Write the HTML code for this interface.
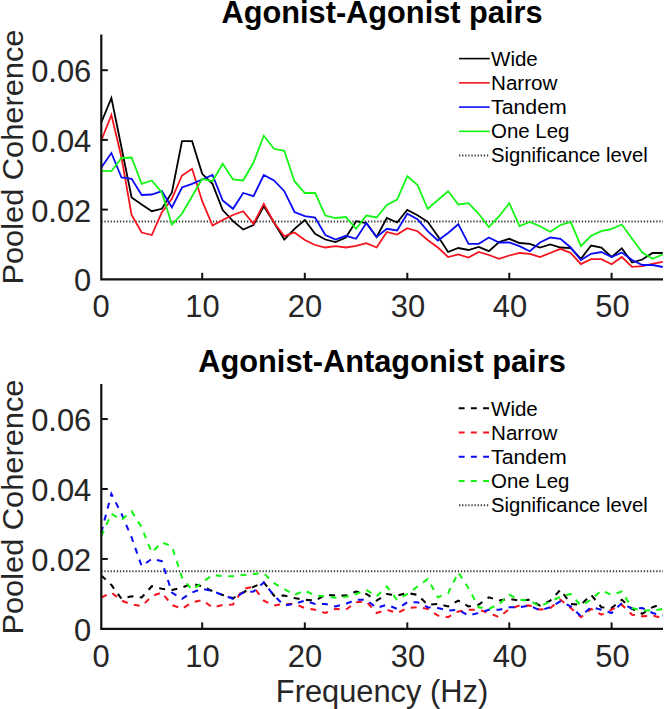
<!DOCTYPE html>
<html><head><meta charset="utf-8"><title>Pooled Coherence</title>
<style>
html,body{margin:0;padding:0;background:#fff;}
svg{display:block;}
text{font-family:"Liberation Sans",Arial,Helvetica,sans-serif;}
.ttl{font-size:30.8px;font-weight:bold;fill:#000;}
.tk{font-size:30.9px;fill:#262626;}
.lab{font-size:31px;fill:#262626;}
.lg{font-size:20.5px;fill:#000;}
</style></head><body>
<svg width="664" height="709" viewBox="0 0 664 709">
<rect width="664" height="709" fill="#fff"/>
<text x="382" y="22.5" class="ttl" text-anchor="middle" textLength="321" lengthAdjust="spacingAndGlyphs">Agonist-Agonist pairs</text>
<line x1="101.3" y1="221.60000000000002" x2="663" y2="221.60000000000002" stroke="#3a3a3a" stroke-width="2.0" stroke-dasharray="1.3 1.8"/>
<polyline points="101.3,122.5 111.4,98.0 121.5,147.5 131.6,197.5 141.7,204.5 151.8,211.2 161.8,208.8 171.9,192.5 182.0,141.2 192.1,141.2 202.2,173.8 212.5,183.8 222.7,210.0 233.0,221.2 243.2,229.5 253.5,225.0 263.8,206.2 274.0,222.5 284.3,239.5 294.5,228.8 304.8,220.0 315.1,233.8 325.3,239.5 335.6,242.0 345.8,237.5 356.1,221.2 366.3,223.0 376.6,237.0 386.8,218.0 397.1,222.5 407.3,210.0 417.5,215.2 427.7,221.8 437.9,236.2 448.1,252.0 458.3,248.0 468.5,250.0 478.7,247.0 488.9,251.2 499.1,242.0 509.3,238.8 519.5,243.0 529.8,243.8 540.0,247.5 550.2,244.5 560.5,247.5 570.7,248.2 580.9,258.8 591.1,245.5 601.4,247.5 611.6,257.0 621.8,248.2 632.1,262.5 642.3,259.5 652.5,253.0 662.8,253.0" fill="none" stroke="#000000" stroke-width="1.8" stroke-linejoin="miter"/>
<polyline points="101.3,140.5 111.4,115.0 121.5,157.5 131.6,215.0 141.7,232.5 151.8,235.0 161.8,212.5 171.9,198.8 182.0,175.5 192.1,168.8 202.2,201.2 212.5,225.5 222.7,220.0 233.0,215.0 243.2,211.2 253.5,223.8 263.8,203.8 274.0,222.5 284.3,236.2 294.5,232.5 304.8,240.0 315.1,245.0 325.3,247.5 335.6,246.2 345.8,247.5 356.1,245.8 366.3,243.2 376.6,247.5 386.8,232.0 397.1,234.5 407.3,228.2 417.5,231.2 427.7,240.0 437.9,247.5 448.1,257.0 458.3,254.5 468.5,257.5 478.7,252.0 488.9,255.0 499.1,258.8 509.3,255.5 519.5,253.0 529.8,253.8 540.0,257.0 550.2,253.0 560.5,248.8 570.7,253.0 580.9,264.1 591.1,259.2 601.4,259.2 611.6,264.2 621.8,257.0 632.1,266.8 642.3,266.2 652.5,263.8 662.8,261.8" fill="none" stroke="#f5141e" stroke-width="1.8" stroke-linejoin="miter"/>
<polyline points="101.3,167.5 111.4,153.0 121.5,177.5 131.6,178.8 141.7,195.0 151.8,194.5 161.8,191.2 171.9,207.5 182.0,187.5 192.1,183.8 202.2,179.5 212.5,175.0 222.7,200.5 233.0,208.8 243.2,193.0 253.5,196.2 263.8,175.0 274.0,180.5 284.3,191.2 294.5,212.0 304.8,216.2 315.1,217.5 325.3,235.0 335.6,239.5 345.8,235.8 356.1,238.8 366.3,223.0 376.6,237.0 386.8,228.8 397.1,230.5 407.3,213.8 417.5,219.1 427.7,231.2 437.9,240.5 448.1,233.0 458.3,224.2 468.5,243.8 478.7,243.8 488.9,237.5 499.1,242.5 509.3,242.5 519.5,246.2 529.8,251.2 540.0,242.5 550.2,237.5 560.5,238.8 570.7,247.5 580.9,260.0 591.1,253.8 601.4,252.0 611.6,257.0 621.8,252.5 632.1,260.0 642.3,265.0 652.5,265.0 662.8,267.0" fill="none" stroke="#0a0af5" stroke-width="1.8" stroke-linejoin="miter"/>
<polyline points="101.3,170.8 111.4,171.2 121.5,158.0 131.6,157.5 141.7,183.8 151.8,180.5 161.8,192.5 171.9,224.5 182.0,213.8 192.1,196.2 202.2,178.8 212.5,181.2 222.7,163.8 233.0,179.5 243.2,180.5 253.5,162.5 263.8,135.8 274.0,148.8 284.3,150.8 294.5,181.2 304.8,193.0 315.1,193.0 325.3,215.5 335.6,218.0 345.8,217.0 356.1,228.8 366.3,215.5 376.6,217.5 386.8,205.0 397.1,199.5 407.3,176.2 417.5,185.0 427.7,208.8 437.9,200.0 448.1,191.2 458.3,204.5 468.5,203.2 478.7,213.8 488.9,227.0 499.1,216.2 509.3,203.2 519.5,226.2 529.8,221.9 540.0,226.2 550.2,231.8 560.5,225.0 570.7,221.9 580.9,246.2 591.1,235.8 601.4,231.2 611.6,228.8 621.8,224.5 632.1,238.8 642.3,252.5 652.5,258.8 662.8,254.5" fill="none" stroke="#14f514" stroke-width="1.8" stroke-linejoin="miter"/>
<path d="M101.3,34.5 V279.3 H663" fill="none" stroke="#111" stroke-width="2.2"/>
<text x="91.3" y="291.2" class="tk" text-anchor="end">0</text>
<line x1="101.3" y1="209.60000000000002" x2="107.8" y2="209.60000000000002" stroke="#111" stroke-width="2"/>
<text x="91.3" y="221.5" class="tk" text-anchor="end">0.02</text>
<line x1="101.3" y1="139.9" x2="107.8" y2="139.9" stroke="#111" stroke-width="2"/>
<text x="91.3" y="151.8" class="tk" text-anchor="end">0.04</text>
<line x1="101.3" y1="70.19999999999999" x2="107.8" y2="70.19999999999999" stroke="#111" stroke-width="2"/>
<text x="91.3" y="82.1" class="tk" text-anchor="end">0.06</text>
<text x="101.0" y="316.9" class="tk" text-anchor="middle">0</text>
<line x1="202.2" y1="279.3" x2="202.2" y2="272.8" stroke="#111" stroke-width="2"/>
<text x="202.5" y="316.9" class="tk" text-anchor="middle">10</text>
<line x1="304.8" y1="279.3" x2="304.8" y2="272.8" stroke="#111" stroke-width="2"/>
<text x="305.0" y="316.9" class="tk" text-anchor="middle">20</text>
<line x1="407.3" y1="279.3" x2="407.3" y2="272.8" stroke="#111" stroke-width="2"/>
<text x="407.90000000000003" y="316.9" class="tk" text-anchor="middle">30</text>
<line x1="509.3" y1="279.3" x2="509.3" y2="272.8" stroke="#111" stroke-width="2"/>
<text x="509.90000000000003" y="316.9" class="tk" text-anchor="middle">40</text>
<line x1="611.6" y1="279.3" x2="611.6" y2="272.8" stroke="#111" stroke-width="2"/>
<text x="612.4" y="316.9" class="tk" text-anchor="middle">50</text>
<text transform="translate(22.7,157.1) rotate(-90)" class="lab" style="font-size:29.9px" text-anchor="middle" textLength="255" lengthAdjust="spacingAndGlyphs">Pooled Coherence</text>
<line x1="459" y1="58.60" x2="489.7" y2="58.60" stroke="#000000" stroke-width="1.6"/>
<text x="491" y="66.40" class="lg" textLength="46.8" lengthAdjust="spacingAndGlyphs">Wide</text>
<line x1="459" y1="82.85" x2="489.7" y2="82.85" stroke="#f5141e" stroke-width="1.6"/>
<text x="491" y="90.40" class="lg" textLength="66.4" lengthAdjust="spacingAndGlyphs">Narrow</text>
<line x1="459" y1="107.10" x2="489.7" y2="107.10" stroke="#0a0af5" stroke-width="1.6"/>
<text x="491" y="114.40" class="lg" textLength="75.8" lengthAdjust="spacingAndGlyphs">Tandem</text>
<line x1="459" y1="131.35" x2="489.7" y2="131.35" stroke="#14f514" stroke-width="1.6"/>
<text x="491" y="138.40" class="lg" textLength="78.5" lengthAdjust="spacingAndGlyphs">One Leg</text>
<line x1="459" y1="155.60" x2="489.7" y2="155.60" stroke="#3a3a3a" stroke-width="2.0" stroke-dasharray="1.3 1.8"/>
<text x="491" y="162.40" class="lg" textLength="156.7" lengthAdjust="spacingAndGlyphs">Significance level</text>
<text x="382" y="372.2" class="ttl" text-anchor="middle" textLength="367.5" lengthAdjust="spacingAndGlyphs">Agonist-Antagonist pairs</text>
<line x1="101.3" y1="571.2" x2="663" y2="571.2" stroke="#3a3a3a" stroke-width="2.0" stroke-dasharray="1.3 1.8"/>
<polyline points="101.3,575.5 111.4,585.0 121.5,598.8 131.6,596.2 141.7,597.5 151.8,586.2 161.8,588.8 171.9,590.0 182.0,587.5 192.1,583.8 202.2,586.2 212.5,591.2 222.7,595.0 233.0,598.2 243.2,592.5 253.5,586.8 263.8,582.4 274.0,595.6 284.3,595.6 294.5,598.1 304.8,599.8 315.1,600.6 325.3,594.8 335.6,595.6 345.8,595.6 356.1,591.5 366.3,594.0 376.6,600.6 386.8,594.0 397.1,595.6 407.3,593.1 417.5,594.8 427.7,604.7 437.9,603.9 448.1,606.4 458.3,600.6 468.5,606.4 478.7,604.7 488.9,597.3 499.1,600.6 509.3,598.9 519.5,600.6 529.8,599.8 540.0,605.6 550.2,600.6 560.5,589.8 570.7,603.9 580.9,604.7 591.1,594.8 601.4,607.2 611.6,608.0 621.8,599.8 632.1,608.9 642.3,613.8 652.5,607.2 662.8,603.9" fill="none" stroke="#000000" stroke-width="2.05" stroke-linejoin="miter" stroke-dasharray="6 6.4"/>
<polyline points="101.3,597.5 111.4,592.5 121.5,600.5 131.6,604.5 141.7,606.2 151.8,596.2 161.8,592.5 171.9,605.0 182.0,608.8 192.1,602.5 202.2,600.0 212.5,607.5 222.7,605.0 233.0,604.5 243.2,588.8 253.5,586.8 263.8,600.6 274.0,605.6 284.3,603.9 294.5,603.9 304.8,608.0 315.1,609.7 325.3,613.0 335.6,608.9 345.8,609.7 356.1,602.2 366.3,601.4 376.6,613.0 386.8,609.7 397.1,613.0 407.3,608.0 417.5,607.2 427.7,608.9 437.9,615.5 448.1,617.2 458.3,611.4 468.5,609.7 478.7,609.7 488.9,613.0 499.1,617.2 509.3,608.9 519.5,605.6 529.8,605.6 540.0,609.7 550.2,608.0 560.5,599.8 570.7,608.0 580.9,617.2 591.1,608.9 601.4,614.7 611.6,609.7 621.8,604.7 632.1,614.7 642.3,616.3 652.5,615.5 662.8,618.0" fill="none" stroke="#f5141e" stroke-width="2.05" stroke-linejoin="miter" stroke-dasharray="6 6.4"/>
<polyline points="101.3,532.5 111.4,493.8 121.5,513.8 131.6,537.5 141.7,566.2 151.8,558.8 161.8,561.2 171.9,592.5 182.0,598.8 192.1,592.5 202.2,588.8 212.5,591.2 222.7,595.0 233.0,598.8 243.2,592.5 253.5,591.5 263.8,582.4 274.0,595.6 284.3,605.6 294.5,603.9 304.8,600.6 315.1,603.9 325.3,603.9 335.6,606.4 345.8,603.9 356.1,599.8 366.3,599.8 376.6,608.0 386.8,604.7 397.1,608.9 407.3,602.2 417.5,602.2 427.7,607.2 437.9,608.0 448.1,610.5 458.3,609.7 468.5,615.5 478.7,613.0 488.9,609.7 499.1,609.7 509.3,607.2 519.5,607.2 529.8,605.6 540.0,610.5 550.2,607.2 560.5,601.4 570.7,606.4 580.9,616.3 591.1,607.2 601.4,609.7 611.6,613.0 621.8,603.1 632.1,608.9 642.3,608.0 652.5,613.0 662.8,615.5" fill="none" stroke="#0a0af5" stroke-width="2.05" stroke-linejoin="miter" stroke-dasharray="6 6.4"/>
<polyline points="101.3,536.2 111.4,513.8 121.5,520.0 131.6,511.2 141.7,527.5 151.8,552.5 161.8,542.5 171.9,546.2 182.0,577.5 192.1,590.0 202.2,582.5 212.5,575.0 222.7,576.2 233.0,576.2 243.2,575.0 253.5,573.9 263.8,573.3 274.0,583.2 284.3,589.0 294.5,594.8 304.8,590.6 315.1,595.6 325.3,596.4 335.6,597.8 345.8,596.8 356.1,594.0 366.3,589.8 376.6,596.4 386.8,586.5 397.1,599.8 407.3,594.0 417.5,586.5 427.7,579.1 437.9,597.3 448.1,593.1 458.3,572.4 468.5,588.2 478.7,607.2 488.9,608.9 499.1,603.9 509.3,594.8 519.5,599.8 529.8,600.6 540.0,606.4 550.2,601.4 560.5,596.9 570.7,594.0 580.9,605.6 591.1,599.8 601.4,590.6 611.6,594.8 621.8,591.5 632.1,608.0 642.3,610.5 652.5,610.5 662.8,608.9" fill="none" stroke="#14f514" stroke-width="2.05" stroke-linejoin="miter" stroke-dasharray="6 6.4"/>
<path d="M101.3,384.1 V628.9000000000001 H663" fill="none" stroke="#111" stroke-width="2.2"/>
<text x="91.3" y="641.0" class="tk" text-anchor="end">0</text>
<line x1="101.3" y1="558.95" x2="107.8" y2="558.95" stroke="#111" stroke-width="2"/>
<text x="91.3" y="571.1" class="tk" text-anchor="end">0.02</text>
<line x1="101.3" y1="489.0000000000001" x2="107.8" y2="489.0000000000001" stroke="#111" stroke-width="2"/>
<text x="91.3" y="501.1" class="tk" text-anchor="end">0.04</text>
<line x1="101.3" y1="419.05000000000007" x2="107.8" y2="419.05000000000007" stroke="#111" stroke-width="2"/>
<text x="91.3" y="431.2" class="tk" text-anchor="end">0.06</text>
<text x="101.0" y="666.5" class="tk" text-anchor="middle">0</text>
<line x1="202.2" y1="628.9000000000001" x2="202.2" y2="622.4000000000001" stroke="#111" stroke-width="2"/>
<text x="202.5" y="666.5" class="tk" text-anchor="middle">10</text>
<line x1="304.8" y1="628.9000000000001" x2="304.8" y2="622.4000000000001" stroke="#111" stroke-width="2"/>
<text x="305.0" y="666.5" class="tk" text-anchor="middle">20</text>
<line x1="407.3" y1="628.9000000000001" x2="407.3" y2="622.4000000000001" stroke="#111" stroke-width="2"/>
<text x="407.90000000000003" y="666.5" class="tk" text-anchor="middle">30</text>
<line x1="509.3" y1="628.9000000000001" x2="509.3" y2="622.4000000000001" stroke="#111" stroke-width="2"/>
<text x="509.90000000000003" y="666.5" class="tk" text-anchor="middle">40</text>
<line x1="611.6" y1="628.9000000000001" x2="611.6" y2="622.4000000000001" stroke="#111" stroke-width="2"/>
<text x="612.4" y="666.5" class="tk" text-anchor="middle">50</text>
<text transform="translate(22.7,507.1) rotate(-90)" class="lab" style="font-size:29.9px" text-anchor="middle" textLength="255" lengthAdjust="spacingAndGlyphs">Pooled Coherence</text>
<line x1="458.7" y1="408.20" x2="489.7" y2="408.20" stroke="#000000" stroke-width="2.0" stroke-dasharray="5.9 6.3"/>
<text x="491" y="416.00" class="lg" textLength="46.8" lengthAdjust="spacingAndGlyphs">Wide</text>
<line x1="458.7" y1="432.45" x2="489.7" y2="432.45" stroke="#f5141e" stroke-width="2.0" stroke-dasharray="5.9 6.3"/>
<text x="491" y="440.00" class="lg" textLength="66.4" lengthAdjust="spacingAndGlyphs">Narrow</text>
<line x1="458.7" y1="456.70" x2="489.7" y2="456.70" stroke="#0a0af5" stroke-width="2.0" stroke-dasharray="5.9 6.3"/>
<text x="491" y="464.00" class="lg" textLength="75.8" lengthAdjust="spacingAndGlyphs">Tandem</text>
<line x1="458.7" y1="480.95" x2="489.7" y2="480.95" stroke="#14f514" stroke-width="2.0" stroke-dasharray="5.9 6.3"/>
<text x="491" y="488.00" class="lg" textLength="78.5" lengthAdjust="spacingAndGlyphs">One Leg</text>
<line x1="459" y1="505.20" x2="489.7" y2="505.20" stroke="#3a3a3a" stroke-width="2.0" stroke-dasharray="1.3 1.8"/>
<text x="491" y="512.00" class="lg" textLength="156.7" lengthAdjust="spacingAndGlyphs">Significance level</text>
<text x="382.0" y="701.7" class="lab" text-anchor="middle" textLength="212.4" lengthAdjust="spacingAndGlyphs">Frequency (Hz)</text>
</svg>
</body></html>
